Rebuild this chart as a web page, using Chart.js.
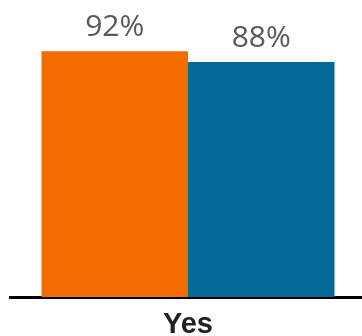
<!DOCTYPE html>
<html>
<head>
<meta charset="utf-8">
<script src="https://cdn.jsdelivr.net/npm/chart.js@4/dist/chart.umd.min.js"></script>
<style>
    html, body { margin: 0; padding: 0; background: #fff; overflow: hidden; }
    #wrap { position: relative; width: 366px; height: 336px; }
</style>
</head>
<body>
<div id="wrap"><canvas id="yesChart"></canvas></div>
<script>
const categories = ['Yes'];
const seriesNames = ['Group A', 'Group B'];
const seriesValues = [[92], [88]];
const seriesColors = ['#F26C00', '#046A98'];

// Draw the percentage labels above each bar
const valueLabels = {
    id: 'valueLabels',
    afterDatasetsDraw(chart) {
        const ctx = chart.ctx;
        ctx.save();
        ctx.font = '30px "Open Sans", sans-serif';
        ctx.fillStyle = '#595959';
        ctx.textAlign = 'center';
        ctx.textBaseline = 'alphabetic';
        chart.data.datasets.forEach((ds, i) => {
            chart.getDatasetMeta(i).data.forEach((bar, j) => {
                ctx.fillText(ds.data[j] + '%', bar.x, bar.y - 15);
            });
        });
        ctx.restore();
    }
};

const ctx = document.getElementById('yesChart').getContext('2d');
new Chart(ctx, {
    type: 'bar',
    data: {
        labels: categories,
        datasets: seriesValues.map((vals, i) => ({
            label: seriesNames[i],
            data: vals,
            backgroundColor: seriesColors[i],
            borderWidth: 0,
            barPercentage: 1,
            categoryPercentage: 0.823
        }))
    },
    options: {
        responsive: true,
        maintainAspectRatio: false,
        animation: false,
        layout: { padding: { top: 30, left: 10, right: 0, bottom: 0 } },
        plugins: {
            legend: { display: false },
            tooltip: { enabled: false }
        },
        scales: {
            x: {
                grid: { display: false, drawTicks: false },
                border: { display: true, color: '#000', width: 3 },
                afterFit: (scale) => { scale.height = 39; }, // keep baseline at ~297
                ticks: {
                    padding: 13,
                    color: '#222',
                    font: { family: '"Liberation Sans", Arial, sans-serif', size: 29, weight: 'bold', lineHeight: 1 }
                }
            },
            y: {
                display: false,
                min: 0,
                max: 100
            }
        }
    },
    plugins: [valueLabels]
});
</script>
</body>
</html>
